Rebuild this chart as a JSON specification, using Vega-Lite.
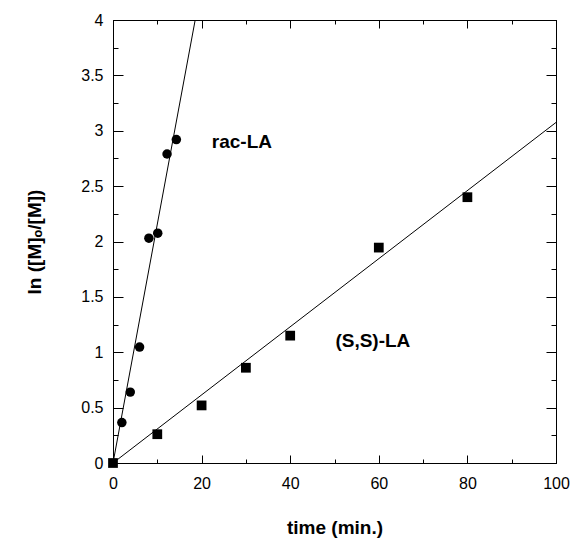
{
  "$schema": "https://vega.github.io/schema/vega-lite/v6.json",
  "autosize": {"type": "none"},
  "padding": {"left": 113, "top": 20, "right": 18, "bottom": 76},
  "width": 443,
  "height": 443,
  "background": "white",
  "config": {
    "view": {"stroke": "black", "strokeWidth": 1},
    "font": "Liberation Sans",
    "axis": {
      "grid": false,
      "labelFlush": false,
      "labelOverlap": false,
      "domainColor": "black",
      "tickColor": "black",
      "labelColor": "black",
      "titleColor": "black",
      "labelFont": "Liberation Sans",
      "labelFontSize": 16,
      "titleFont": "Liberation Sans",
      "titleFontSize": 19,
      "titleFontWeight": "bold"
    }
  },
  "datasets": {
    "rac": [
      {"t": 2, "v": 0.365},
      {"t": 3.9, "v": 0.64},
      {"t": 6, "v": 1.047},
      {"t": 8.1, "v": 2.03},
      {"t": 10.1, "v": 2.075},
      {"t": 12.2, "v": 2.79},
      {"t": 14.3, "v": 2.92}
    ],
    "ss": [
      {"t": 0, "v": 0},
      {"t": 10, "v": 0.26},
      {"t": 20, "v": 0.52},
      {"t": 30, "v": 0.86},
      {"t": 40, "v": 1.15},
      {"t": 60, "v": 1.945},
      {"t": 80, "v": 2.4}
    ],
    "fits": [
      {"series": "rac-LA", "t": 0, "v": 0},
      {"series": "rac-LA", "t": 18.55, "v": 4},
      {"series": "(S,S)-LA", "t": 0, "v": 0},
      {"series": "(S,S)-LA", "t": 100, "v": 3.075}
    ],
    "labels": [
      {"label": "rac-LA", "t": 22.3, "v": 2.9},
      {"label": "(S,S)-LA", "t": 50.2, "v": 1.1}
    ]
  },
  "resolve": {"axis": {"x": "independent", "y": "independent"}},
  "layer": [
    {
      "data": {"name": "fits"},
      "mark": {"type": "line", "color": "black", "strokeWidth": 1},
      "encoding": {
        "x": {
          "field": "t", "type": "quantitative",
          "scale": {"domain": [0, 100], "nice": false, "zero": false},
          "axis": {
            "orient": "bottom",
            "title": "time (min.)",
            "values": [0, 10, 20, 30, 40, 50, 60, 70, 80, 90, 100],
            "labelExpr": "datum.value % 20 === 0 ? format(datum.value, '~g') : ''",
            "tickSize": {"condition": {"test": "datum.value % 20 === 0", "value": -8}, "value": -4},
            "labelPadding": 20,
            "titlePadding": 23
          }
        },
        "y": {
          "field": "v", "type": "quantitative",
          "scale": {"domain": [0, 4], "nice": false, "zero": false},
          "axis": {
            "orient": "left",
            "title": "ln ([M]ₒ/[M])",
            "values": [0, 0.25, 0.5, 0.75, 1, 1.25, 1.5, 1.75, 2, 2.25, 2.5, 2.75, 3, 3.25, 3.5, 3.75, 4],
            "labelExpr": "datum.value % 0.5 === 0 ? format(datum.value, '~g') : ''",
            "tickSize": {"condition": {"test": "datum.value % 0.5 === 0", "value": -10}, "value": -5},
            "labelPadding": 20,
            "titlePadding": 36
          }
        },
        "detail": {"field": "series"}
      }
    },
    {
      "data": {"name": "fits"},
      "mark": {"type": "line", "opacity": 0},
      "encoding": {
        "x": {
          "field": "t", "type": "quantitative",
          "scale": {"domain": [0, 100], "nice": false, "zero": false},
          "axis": {
            "orient": "top",
            "title": null,
            "labels": false,
            "values": [0, 10, 20, 30, 40, 50, 60, 70, 80, 90, 100],
            "tickSize": {"condition": {"test": "datum.value % 20 === 0", "value": -8}, "value": -4}
          }
        },
        "y": {
          "field": "v", "type": "quantitative",
          "scale": {"domain": [0, 4], "nice": false, "zero": false},
          "axis": {
            "orient": "right",
            "title": null,
            "labels": false,
            "values": [0, 0.25, 0.5, 0.75, 1, 1.25, 1.5, 1.75, 2, 2.25, 2.5, 2.75, 3, 3.25, 3.5, 3.75, 4],
            "tickSize": {"condition": {"test": "datum.value % 0.5 === 0", "value": -10}, "value": -5}
          }
        },
        "detail": {"field": "series"}
      }
    },
    {
      "data": {"name": "rac"},
      "mark": {"type": "point", "shape": "circle", "filled": true, "color": "black", "opacity": 1, "size": 90},
      "encoding": {
        "x": {"field": "t", "type": "quantitative", "axis": null},
        "y": {"field": "v", "type": "quantitative", "axis": null}
      }
    },
    {
      "data": {"name": "ss"},
      "mark": {"type": "square", "filled": true, "color": "black", "opacity": 1, "size": 95},
      "encoding": {
        "x": {"field": "t", "type": "quantitative", "axis": null},
        "y": {"field": "v", "type": "quantitative", "axis": null}
      }
    },
    {
      "data": {"name": "labels"},
      "mark": {"type": "text", "align": "left", "baseline": "middle", "font": "Liberation Sans", "fontSize": 19, "fontWeight": "bold", "color": "black"},
      "encoding": {
        "x": {"field": "t", "type": "quantitative", "axis": null},
        "y": {"field": "v", "type": "quantitative", "axis": null},
        "text": {"field": "label"}
      }
    }
  ]
}
